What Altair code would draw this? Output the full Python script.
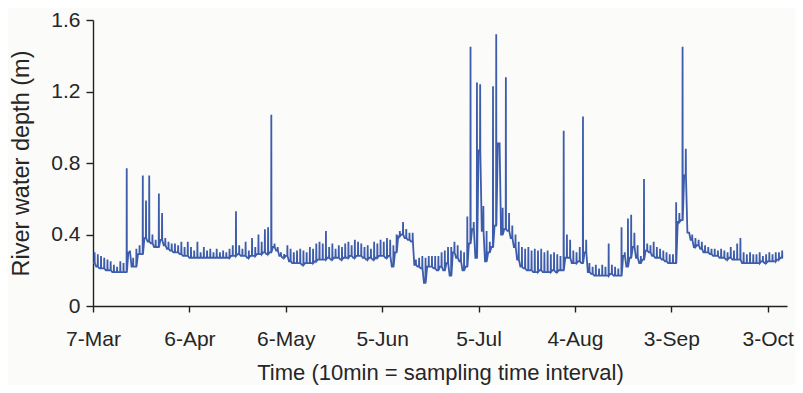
import altair as alt
import pandas as pd

# x axis: days since 7-Mar, ticks every 30 days
tick_days = [0, 30, 60, 90, 120, 150, 180, 210]
tick_labels = ["7-Mar", "6-Apr", "6-May", "5-Jun", "5-Jul", "4-Aug", "3-Sep", "3-Oct"]
y_ticks = [0, 0.4, 0.8, 1.2, 1.6]

# daily base level of river water depth (m), day 0 = 7-Mar
depth_base = [
    0.24, 0.22, 0.21, 0.21, 0.20, 0.20, 0.19, 0.19, 0.19, 0.19,
    0.19, 0.30, 0.22, 0.22, 0.29, 0.29, 0.38, 0.36, 0.35, 0.33,
    0.33, 0.37, 0.34, 0.32, 0.31, 0.30, 0.30, 0.29, 0.28, 0.28,
    0.27, 0.27, 0.27, 0.27, 0.27, 0.27, 0.27, 0.27, 0.27, 0.27,
    0.27, 0.27, 0.27, 0.28, 0.28, 0.29, 0.28, 0.28, 0.27, 0.28,
    0.28, 0.29, 0.29, 0.30, 0.29, 0.30, 0.33, 0.31, 0.28, 0.27,
    0.28, 0.25, 0.24, 0.24, 0.24, 0.23, 0.24, 0.24, 0.24, 0.25,
    0.26, 0.26, 0.26, 0.27, 0.26, 0.27, 0.27, 0.26, 0.27, 0.27,
    0.28, 0.27, 0.28, 0.28, 0.27, 0.26, 0.27, 0.26, 0.27, 0.28,
    0.28, 0.27, 0.28, 0.22, 0.30, 0.39, 0.40, 0.38, 0.37, 0.36,
    0.23, 0.22, 0.21, 0.13, 0.22, 0.22, 0.21, 0.20, 0.22, 0.20,
    0.24, 0.17, 0.30, 0.27, 0.25, 0.20, 0.22, 0.35, 0.43, 0.27,
    0.87, 0.42, 0.25, 0.30, 0.33, 0.45, 0.91, 0.40, 0.43, 0.42,
    0.38, 0.33, 0.26, 0.22, 0.21, 0.20, 0.20, 0.19, 0.19, 0.20,
    0.19, 0.19, 0.19, 0.20, 0.19, 0.20, 0.20, 0.27, 0.27, 0.24,
    0.24, 0.25, 0.24, 0.30, 0.19, 0.18, 0.17, 0.17, 0.17, 0.17,
    0.17, 0.18, 0.17, 0.17, 0.17, 0.28, 0.22, 0.27, 0.33, 0.27,
    0.24, 0.26, 0.31, 0.30, 0.28, 0.27, 0.27, 0.26, 0.25, 0.24,
    0.24, 0.24, 0.47, 0.48, 0.73, 0.41, 0.37, 0.33, 0.34, 0.32,
    0.30, 0.30, 0.29, 0.28, 0.28, 0.27, 0.27, 0.26, 0.27, 0.26,
    0.26, 0.26, 0.24, 0.24, 0.24, 0.24, 0.24, 0.24, 0.25, 0.24,
    0.25, 0.25, 0.25, 0.26, 0.27,
]

# daily peak reading of river water depth (m)
depth_peak = [
    0.30, 0.29, 0.28, 0.27, 0.26, 0.25, 0.23, 0.22, 0.25, 0.24,
    0.77, 0.31, 0.27, 0.32, 0.34, 0.73, 0.59, 0.73, 0.40, 0.37,
    0.63, 0.52, 0.38, 0.36, 0.35, 0.35, 0.34, 0.36, 0.33, 0.36,
    0.33, 0.31, 0.36, 0.30, 0.33, 0.31, 0.32, 0.30, 0.32, 0.30,
    0.31, 0.30, 0.32, 0.34, 0.53, 0.34, 0.32, 0.36, 0.31, 0.38,
    0.33, 0.40, 0.36, 0.43, 0.44, 1.07, 0.35, 0.33, 0.30, 0.29,
    0.34, 0.32, 0.30, 0.31, 0.32, 0.31, 0.30, 0.33, 0.32, 0.35,
    0.36, 0.35, 0.42, 0.33, 0.35, 0.32, 0.34, 0.33, 0.35, 0.36,
    0.34, 0.37, 0.36, 0.35, 0.33, 0.34, 0.32, 0.36, 0.35, 0.37,
    0.36, 0.38, 0.37, 0.34, 0.40, 0.42, 0.47, 0.43, 0.41, 0.41,
    0.26, 0.27, 0.28, 0.27, 0.28, 0.28, 0.28, 0.28, 0.30, 0.31,
    0.33, 0.33, 0.36, 0.34, 0.31, 0.30, 0.50, 1.45, 0.47, 1.25,
    1.24, 0.56, 0.42, 0.36, 1.23, 1.52, 0.91, 0.55, 1.28, 0.52,
    0.45, 0.40, 0.36, 0.33, 0.32, 0.33, 0.31, 0.32, 0.31, 0.32,
    0.30, 0.31, 0.29, 0.30, 0.29, 0.28, 0.98, 0.40, 0.37, 0.31,
    0.30, 0.33, 1.06, 0.37, 0.24, 0.22, 0.23, 0.21, 0.23, 0.22,
    0.35, 0.23, 0.22, 0.21, 0.44, 0.30, 0.49, 0.51, 0.41, 0.34,
    0.28, 0.71, 0.35, 0.34, 0.36, 0.33, 0.32, 0.31, 0.30, 0.29,
    0.29, 0.58, 0.52, 1.45, 0.88, 0.41, 0.40, 0.38, 0.37, 0.36,
    0.34, 0.33, 0.32, 0.32, 0.31, 0.32, 0.31, 0.30, 0.33, 0.31,
    0.35, 0.38, 0.30, 0.29, 0.30, 0.29, 0.29, 0.30, 0.28, 0.29,
    0.30, 0.29, 0.30, 0.30, 0.31,
]

rows = []
k = 0
for d, (b, p) in enumerate(zip(depth_base, depth_peak)):
    for off, v in ((0.0, b), (0.45, b), (0.5, p), (0.55, b)):
        rows.append({"t": d + off, "depth": v, "o": k})
        k += 1
df = pd.DataFrame(rows)

label_expr = "[" + ",".join(f"'{s}'" for s in tick_labels) + "][round(datum.value/30)]"

FONT = "Liberation Sans"
TXT = "#262626"

chart = (
    alt.Chart(df)
    .mark_line(color="#3d5cab", strokeWidth=1.8)
    .encode(
        x=alt.X(
            "t:Q",
            scale=alt.Scale(domain=[0, 216], nice=False, zero=False),
            axis=alt.Axis(
                values=tick_days,
                labelExpr=label_expr,
                title="Time (10min = sampling time interval)",
                grid=False,
                tickSize=6,
                labelBaseline="middle",
                labelPadding=27,
                titleBaseline="middle",
                titleY=66,
                labelFlush=False,
                titleFontSize=22,
            ),
        ),
        y=alt.Y(
            "depth:Q",
            scale=alt.Scale(domain=[0, 1.6], nice=False),
            axis=alt.Axis(
                values=y_ticks,
                labelExpr="datum.value == 0 ? '0' : format(datum.value, '.1f')",
                title="River water depth (m)",
                grid=False,
                tickSize=7,
                labelPadding=6,
                titleX=-72,
                titleY=143,
                titleBaseline="middle",
                titleAlign="center",
                titleAngle=270,
                titleFontSize=23.5,
            ),
        ),
        order="o:Q",
    )
    .properties(
        width=694,
        height=286,
        autosize=alt.AutoSizeParams(type="none"),
        padding={"left": 85, "top": 12, "right": 8, "bottom": 79},
        background="#fbfbf9",
    )
    .configure_view(stroke=None)
    .configure_axis(
        domainColor="#222222",
        tickColor="#222222",
        domainWidth=1.4,
        tickWidth=1.4,
        labelFont=FONT,
        titleFont=FONT,
        labelFontSize=21,
        labelColor=TXT,
        titleColor=TXT,
        titleFontWeight="normal",
    )
)

chart.save("out.html", embed_options={"renderer": "svg", "actions": False})
